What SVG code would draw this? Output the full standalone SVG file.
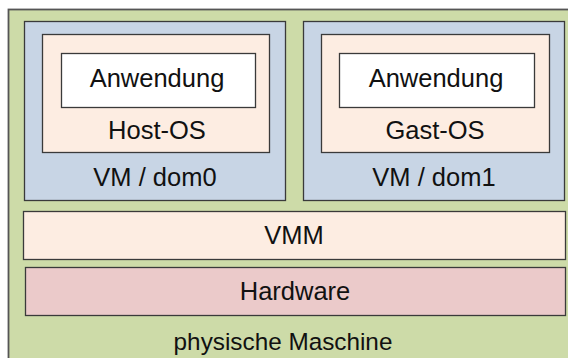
<svg xmlns="http://www.w3.org/2000/svg" width="568" height="358" viewBox="0 0 568 358">
<style>
.b{stroke:#3a3a3a;stroke-width:1.3}
.t{font-family:"Liberation Sans",Arial,sans-serif;font-size:25.5px;fill:#111;text-anchor:middle}
.g{fill:#cddba8}.bl{fill:#c8d5e5}.p{fill:#fdede2}.w{fill:#fff}.r{fill:#ebcaca}
</style>
<g id="physische-maschine">
<rect x="8.5" y="9.5" width="580" height="370" class="g" stroke="#555" stroke-width="1.8"/>
<text class="t" x="283" y="350" style="font-size:24.3px">physische Maschine</text>
</g>
<g id="vm-dom0">
<rect x="24.5" y="21.5" width="261" height="179" class="b bl"/>
<text class="t" x="155" y="186">VM / dom0</text>
</g>
<g id="host-os">
<rect x="42.5" y="34.5" width="227" height="118" class="b p"/>
<text class="t" x="157" y="139">Host-OS</text>
</g>
<g id="anwendung0">
<rect x="61.5" y="53.5" width="194" height="54" class="b w"/>
<text class="t" x="157" y="87">Anwendung</text>
</g>
<g id="vm-dom1">
<rect x="303.5" y="21.5" width="261" height="179" class="b bl"/>
<text class="t" x="434" y="186">VM / dom1</text>
</g>
<g id="gast-os">
<rect x="321.5" y="34.5" width="228" height="118" class="b p"/>
<text class="t" x="435" y="139">Gast-OS</text>
</g>
<g id="anwendung1">
<rect x="339.5" y="53.5" width="195" height="54" class="b w"/>
<text class="t" x="436" y="87">Anwendung</text>
</g>
<g id="vmm">
<rect x="23.5" y="211.5" width="542" height="48" class="b p"/>
<text class="t" x="294" y="244">VMM</text>
</g>
<g id="hardware">
<rect x="25.5" y="267.5" width="540" height="48" class="b r"/>
<text class="t" x="295" y="300">Hardware</text>
</g>
<g id="connectors"/>
</svg>
